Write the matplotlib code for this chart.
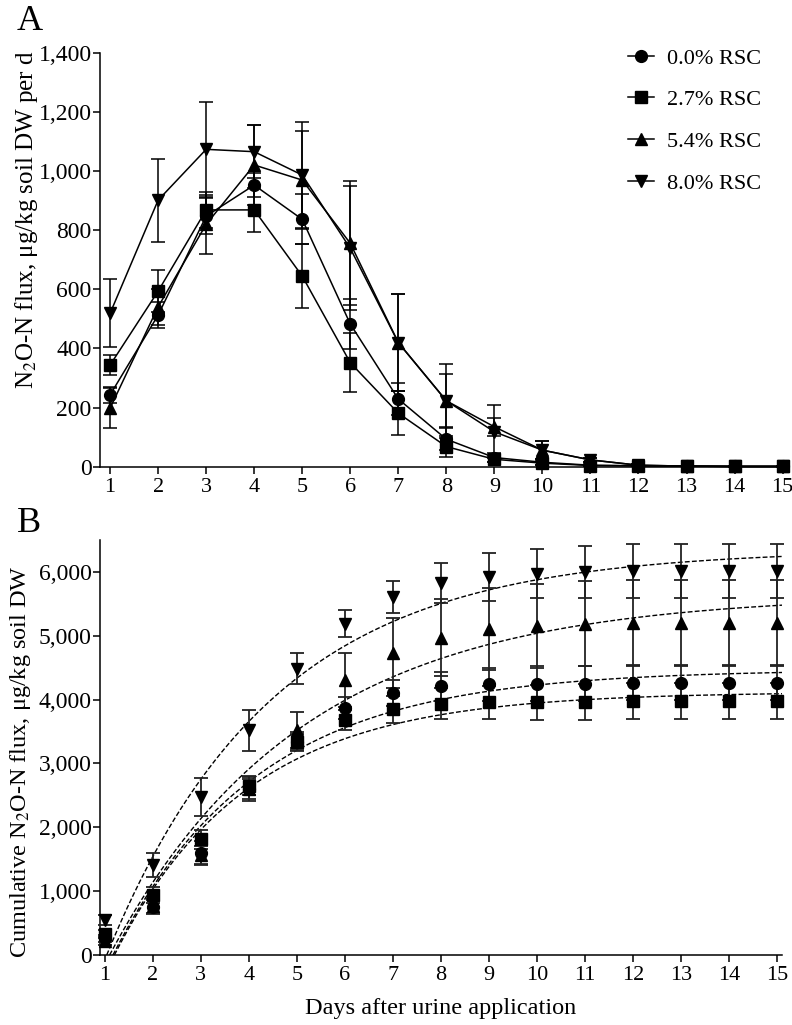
import numpy as np
import matplotlib.pyplot as plt
from matplotlib.lines import Line2D
from matplotlib.ticker import FuncFormatter

plt.rcParams['font.family'] = ['Liberation Serif', 'DejaVu Serif']
plt.rcParams['mathtext.fontset'] = 'stix'

days = np.arange(1, 16)
labels = ['0.0% RSC', '2.7% RSC', '5.4% RSC', '8.0% RSC']
markers = ['o', 's', '^', 'v']

# panel A: daily N2O-N flux (mean, error)
flux_00 = [243, 513, 848, 953, 837, 483, 229, 93, 31, 15, 5, 3, 2, 1, 1]
flux_27 = [344, 594, 869, 869, 645, 352, 181, 68, 25, 12, 4, 3, 2, 1, 1]
flux_54 = [198, 541, 820, 1021, 970, 756, 420, 223, 135, 56, 23, 5, 2, 1, 1]
flux_80 = [519, 902, 1074, 1066, 987, 739, 420, 223, 118, 56, 23, 5, 2, 1, 1]
flux_err_00 = [28, 45, 60, 40, 85, 85, 55, 37, 15, 8, 3, 2, 1, 1, 1]
flux_err_27 = [35, 70, 60, 75, 108, 100, 75, 35, 10, 5, 2, 1, 1, 1, 1]
flux_err_54 = [68, 60, 100, 135, 165, 210, 165, 90, 30, 30, 8, 3, 1, 1, 1]
flux_err_80 = [115, 140, 160, 90, 180, 210, 165, 125, 90, 30, 8, 3, 1, 1, 1]

# panel B: cumulative flux (mean, error)
cum_00 = [261, 756, 1601, 2600, 3338, 3870, 4105, 4210, 4241, 4252, 4252, 4268, 4268, 4268, 4268]
cum_27 = [330, 939, 1810, 2650, 3338, 3678, 3850, 3939, 3955, 3955, 3964, 3975, 3975, 3975, 3975]
cum_54 = [220, 760, 1565, 2600, 3521, 4304, 4732, 4972, 5102, 5149, 5191, 5201, 5201, 5201, 5201]
cum_80 = [548, 1408, 2478, 3521, 4487, 5191, 5608, 5827, 5920, 5974, 5994, 6010, 6010, 6010, 6010]
cum_err_00 = [60, 120, 180, 190, 150, 170, 200, 230, 260, 270, 280, 280, 280, 280, 280]
cum_err_27 = [60, 120, 150, 150, 120, 160, 210, 240, 260, 270, 280, 280, 280, 280, 280]
cum_err_54 = [60, 100, 150, 150, 280, 420, 550, 600, 640, 660, 670, 670, 670, 670, 670]
cum_err_80 = [80, 190, 300, 320, 250, 210, 250, 320, 370, 390, 410, 420, 420, 420, 420]

# one-phase association fit: plateau, rate, start day
fit_plateau = [4470, 4120, 5650, 6350]
fit_rate = [0.33, 0.36, 0.25, 0.29]
fit_x0 = [1.17, 1.20, 1.10, 1.04]

flux = [flux_00, flux_27, flux_54, flux_80]
flux_err = [flux_err_00, flux_err_27, flux_err_54, flux_err_80]
cum = [cum_00, cum_27, cum_54, cum_80]
cum_err = [cum_err_00, cum_err_27, cum_err_54, cum_err_80]

comma = FuncFormatter(lambda v, p: f'{int(v):,}')

fig = plt.figure(figsize=(7.92, 10.25), dpi=100)
axA = fig.add_axes([100/792, 1 - 466.7/1025, 685/792, 413.7/1025])
axB = fig.add_axes([100/792, 1 - 955/1025, 682/792, 415/1025])

for i in range(4):
    axA.errorbar(days, flux[i], yerr=flux_err[i], color='k', marker=markers[i],
                 ms=8.5, lw=1.1, elinewidth=1.1, capsize=4.8, capthick=1.1,
                 clip_on=False, zorder=3)

for i in range(4):
    x = np.linspace(fit_x0[i], 15.1, 200)
    y = fit_plateau[i] * (1 - np.exp(-fit_rate[i] * (x - fit_x0[i])))
    axB.plot(x, y, color='k', lw=1.0, ls=(0, (3.5, 1.6)), zorder=2)
    axB.errorbar(days, cum[i], yerr=cum_err[i], color='k', marker=markers[i],
                 ls='none', ms=8.5, elinewidth=1.3, ecolor='#222222',
                 capsize=4.8, capthick=1.3, clip_on=False, zorder=3)

axA.set_xlim(0.79, 15.05)
axA.set_ylim(0, 1400)
axA.set_yticks(range(0, 1401, 200))
axB.set_xlim(0.9, 15.1)
axB.set_ylim(0, 6500)
axB.set_yticks(range(0, 6001, 1000))

for ax in (axA, axB):
    ax.set_xticks(days)
    ax.yaxis.set_major_formatter(comma)
    for s in ('top', 'right'):
        ax.spines[s].set_visible(False)
    for s in ('left', 'bottom'):
        ax.spines[s].set_linewidth(1.1)
    ax.tick_params(axis='y', direction='out', length=5, width=1.1, labelsize=17, pad=1)
    ax.tick_params(axis='x', direction='out', length=5, width=1.1, labelsize=16, pad=3)

axA.set_ylabel('N$_2$O-N flux, μg/kg soil DW per d', fontsize=18)
axA.yaxis.set_label_coords(-0.088, 0.596)
axB.set_ylabel('Cumulative N$_2$O-N flux, μg/kg soil DW', fontsize=17.5)
axB.yaxis.set_label_coords(-0.098, 0.467)
axB.set_xlabel('Days after urine application', fontsize=17.5)
axB.xaxis.set_label_coords(0.5, -0.104)

fig.text(17/792, 1 - 30/1025, 'A', fontsize=26, va='baseline')
fig.text(17/792, 1 - 532/1025, 'B', fontsize=26, va='baseline')

handles = [Line2D([0], [0], color='k', marker=m, ms=8.5, lw=1.1) for m in markers]
axA.legend(handles, labels, loc='upper left', bbox_to_anchor=(628/792, 1 - 48/1025),
           bbox_transform=fig.transFigure, frameon=False, fontsize=16,
           handlelength=1.15, handletextpad=0.6, labelspacing=0.95,
           borderpad=0, borderaxespad=0)

fig.savefig('out.png', dpi=100)
